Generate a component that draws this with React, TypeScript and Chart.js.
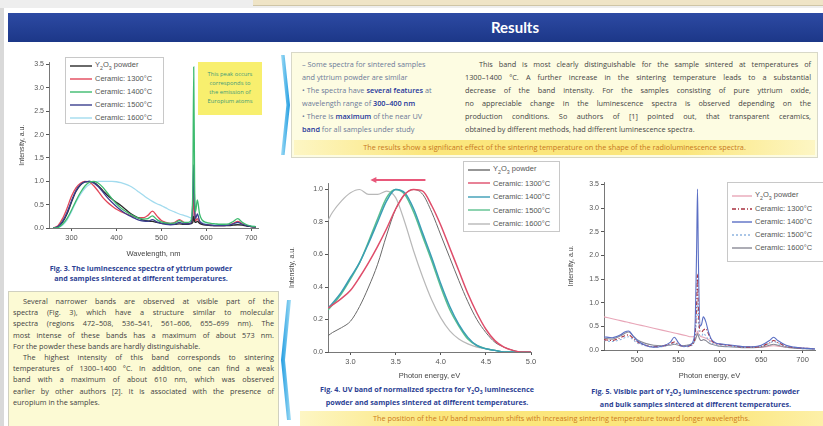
import React, { useEffect, useRef } from "react";
import { Chart, registerables } from "chart.js";
Chart.register(...registerables);

// ---------------- Fig. 3 : luminescence spectra (wavelength, nm) ----------------
const fig3Wavelength = [260,270,280,290,300,310,320,330,340,350,360,370,380,390,400,410,420,430,440,450,460,470,480,490,500,510,520,530,540,550,560,565,568,570,572,574,576,580,585,590,600,610,620,630,640,650,660,670,680,690,700,710];
const fig3Powder = [0,0.02,0.12,0.3,0.55,0.78,0.92,0.99,1.0,0.97,0.9,0.8,0.7,0.62,0.55,0.48,0.4,0.32,0.26,0.21,0.17,0.15,0.14,0.12,0.1,0.09,0.08,0.08,0.09,0.08,0.08,0.09,0.1,0.12,0.25,0.14,0.12,0.14,0.1,0.08,0.06,0.05,0.05,0.05,0.05,0.05,0.06,0.07,0.06,0.04,0.03,0.02];
const fig3Ceramic1300 = [0,0.05,0.2,0.42,0.68,0.86,0.96,1.0,0.98,0.9,0.78,0.65,0.55,0.47,0.4,0.35,0.31,0.27,0.24,0.22,0.22,0.27,0.36,0.26,0.16,0.12,0.1,0.12,0.18,0.12,0.1,0.1,0.14,0.25,0.8,0.3,0.15,0.2,0.12,0.09,0.07,0.06,0.05,0.05,0.05,0.06,0.1,0.14,0.09,0.05,0.03,0.02];
const fig3Ceramic1400 = [0,0.01,0.08,0.2,0.38,0.58,0.76,0.9,0.98,1.0,0.96,0.87,0.75,0.63,0.52,0.43,0.36,0.3,0.25,0.21,0.19,0.2,0.26,0.18,0.13,0.11,0.1,0.11,0.16,0.12,0.12,0.15,0.3,0.9,3.45,0.9,0.35,0.6,0.3,0.18,0.12,0.1,0.09,0.08,0.08,0.09,0.14,0.2,0.12,0.07,0.04,0.03];
const fig3Ceramic1500 = [0,0.03,0.14,0.33,0.58,0.8,0.93,0.99,1.0,0.96,0.88,0.77,0.65,0.55,0.46,0.38,0.31,0.26,0.21,0.17,0.15,0.14,0.18,0.13,0.1,0.08,0.07,0.08,0.12,0.09,0.09,0.1,0.2,0.6,1.35,0.5,0.2,0.3,0.15,0.1,0.07,0.06,0.05,0.05,0.05,0.06,0.09,0.12,0.08,0.05,0.03,0.02];
const fig3Ceramic1600 = [0,0.01,0.06,0.17,0.35,0.55,0.72,0.85,0.93,0.98,1.0,1.0,1.0,1.0,0.99,0.97,0.94,0.9,0.84,0.77,0.7,0.63,0.57,0.52,0.48,0.43,0.38,0.34,0.3,0.27,0.24,0.22,0.22,0.22,0.3,0.22,0.2,0.18,0.15,0.12,0.09,0.08,0.07,0.07,0.07,0.07,0.08,0.08,0.07,0.05,0.04,0.03];
const fig3XTicks = [300, 400, 500, 600, 700];
const fig3YTicks = [0, 0.5, 1, 1.5, 2, 2.5, 3, 3.5];

// ---------------- Fig. 4 : UV band, normalized (photon energy, eV) ----------------
const fig4Energy = [2.75,2.8,2.9,3.0,3.1,3.2,3.3,3.4,3.5,3.6,3.7,3.8,3.9,4.0,4.1,4.2,4.3,4.4,4.5,4.6,4.7,4.8,4.9,5.0];
const fig4Powder = [0.1,0.12,0.15,0.19,0.28,0.4,0.54,0.72,0.88,0.97,1.0,0.97,0.86,0.72,0.58,0.44,0.31,0.2,0.12,0.06,0.03,0.01,0,0];
const fig4Ceramic1300 = [0.27,0.29,0.33,0.38,0.46,0.55,0.65,0.76,0.88,0.97,1.0,0.99,0.9,0.78,0.64,0.5,0.36,0.24,0.14,0.07,0.03,0.01,0,0];
const fig4Ceramic1400 = [0.27,0.3,0.37,0.46,0.55,0.67,0.8,0.93,1.0,0.98,0.88,0.73,0.58,0.42,0.28,0.17,0.09,0.04,0.02,0.01,0,0,0,0];
const fig4Ceramic1500 = [0.26,0.29,0.36,0.45,0.55,0.68,0.82,0.95,1.0,0.97,0.86,0.71,0.56,0.4,0.26,0.16,0.08,0.04,0.02,0.01,0,0,0,0];
const fig4Ceramic1600 = [0.81,0.86,0.93,0.98,1.0,0.97,0.97,0.99,0.95,0.8,0.62,0.46,0.32,0.21,0.13,0.08,0.05,0.03,0.02,0.01,0,0,0,0];
const fig4XTicks = [3.0, 3.5, 4.0, 4.5, 5.0];
const fig4YTicks = [0, 0.2, 0.4, 0.6, 0.8, 1.0];
const fig4ShiftArrow = [3.83, 3.22];

// ---------------- Fig. 5 : visible part (wavelength, nm) ----------------
const fig5Wavelength = [460,470,480,485,490,495,500,510,520,530,540,545,550,555,560,565,568,570,572,573,574,576,578,580,583,586,590,595,600,610,620,630,640,650,660,665,670,680,690,700,710,715];
const fig5Powder = [0.7,0.66,0.62,0.6,0.58,0.56,0.54,0.5,0.46,0.42,0.38,0.36,0.34,0.32,0.3,0.28,0.28,0.3,0.35,0.4,0.35,0.3,0.28,0.27,0.25,0.22,0.18,0.14,0.12,0.1,0.08,0.07,0.06,0.06,0.08,0.09,0.08,0.06,0.05,0.04,0.03,0.03];
const fig5Ceramic1300 = [0.22,0.2,0.26,0.3,0.32,0.25,0.18,0.1,0.07,0.08,0.13,0.17,0.12,0.08,0.08,0.1,0.15,0.3,1.0,1.6,0.9,0.4,0.38,0.42,0.45,0.35,0.2,0.14,0.12,0.1,0.08,0.06,0.06,0.08,0.15,0.2,0.16,0.08,0.05,0.04,0.03,0.02];
const fig5Ceramic1400 = [0.28,0.26,0.32,0.38,0.4,0.3,0.2,0.1,0.06,0.08,0.16,0.27,0.15,0.08,0.08,0.12,0.2,0.5,2.2,3.4,2.0,0.5,0.55,0.7,0.6,0.4,0.22,0.15,0.13,0.11,0.09,0.07,0.07,0.1,0.2,0.27,0.2,0.1,0.06,0.04,0.03,0.02];
const fig5Ceramic1500 = [0.2,0.18,0.22,0.26,0.28,0.22,0.15,0.09,0.06,0.07,0.11,0.15,0.1,0.07,0.07,0.09,0.13,0.25,0.7,1.0,0.6,0.3,0.3,0.35,0.3,0.22,0.15,0.11,0.1,0.08,0.07,0.06,0.06,0.08,0.14,0.18,0.14,0.07,0.05,0.03,0.02,0.02];
const fig5Ceramic1600 = [0.25,0.23,0.3,0.35,0.38,0.3,0.22,0.14,0.1,0.09,0.1,0.12,0.1,0.09,0.1,0.12,0.15,0.2,0.3,0.35,0.3,0.22,0.2,0.22,0.2,0.16,0.12,0.1,0.08,0.07,0.06,0.05,0.05,0.06,0.1,0.12,0.1,0.06,0.04,0.03,0.02,0.02];
const fig5XTicks = [500, 550, 600, 650, 700];
const fig5YTicks = [0, 0.5, 1, 1.5, 2, 2.5, 3, 3.5];

const seriesNames = ["Y2O3 powder", "Ceramic: 1300°C", "Ceramic: 1400°C", "Ceramic: 1500°C", "Ceramic: 1600°C"];

const FONT = "'Liberation Sans', Arial, sans-serif";
const TEXT_FONT = "'Open Sans', sans-serif";

type Series = { name: string; xs: number[]; ys: number[]; color: string; width?: number; dash?: number[]; order?: number };

type ChartProps = {
  left: number; top: number; width: number; height: number;
  series: Series[];
  xMin: number; xMax: number; xTicks: number[]; xDigits: number; xTitle: string;
  yMin: number; yMax: number; yTicks: number[]; yDigits: number; yTitle: string;
  yAxisW: number; xAxisH: number; padding: any; plugins?: any[];
};

function LineChart(p: ChartProps) {
  const ref = useRef<HTMLCanvasElement | null>(null);
  useEffect(() => {
    const c = ref.current;
    if (!c) return;
    const axisColor = "#555";
    const chart = new Chart(c, {
      type: "line",
      data: {
        datasets: p.series.map((s) => ({
          label: s.name,
          data: s.xs.map((x, i) => ({ x, y: s.ys[i] })),
          borderColor: s.color,
          backgroundColor: s.color,
          borderWidth: s.width ?? 1.2,
          borderDash: s.dash ?? [],
          order: s.order ?? 0,
          pointRadius: 0,
          fill: false,
          cubicInterpolationMode: "monotone",
        })),
      },
      options: {
        responsive: false,
        animation: false,
        devicePixelRatio: 1,
        layout: { padding: p.padding },
        plugins: { legend: { display: false }, tooltip: { enabled: false } },
        scales: {
          x: {
            type: "linear",
            min: p.xMin,
            max: p.xMax,
            afterBuildTicks: (s: any) => { s.ticks = p.xTicks.map((v) => ({ value: v })); },
            afterFit: (s: any) => { s.height = p.xAxisH; },
            ticks: { autoSkip: false, maxRotation: 0, padding: 2, color: axisColor, font: { family: FONT, size: 7.5 }, callback: (v: any) => Number(v).toFixed(p.xDigits) },
            grid: { drawOnChartArea: false, tickLength: 3, color: axisColor },
            border: { color: axisColor, width: 0.8 },
            title: { display: true, text: p.xTitle, color: "#444", font: { family: FONT, size: 7.5 }, padding: { top: 2, bottom: 0 } },
          },
          y: {
            type: "linear",
            min: p.yMin,
            max: p.yMax,
            afterBuildTicks: (s: any) => { s.ticks = p.yTicks.map((v) => ({ value: v })); },
            afterFit: (s: any) => { s.width = p.yAxisW; },
            ticks: { autoSkip: false, padding: 2, color: axisColor, font: { family: FONT, size: 7 }, callback: (v: any) => Number(v).toFixed(p.yDigits) },
            grid: { drawOnChartArea: false, tickLength: 3, color: axisColor },
            border: { color: axisColor, width: 0.8 },
            title: { display: true, text: p.yTitle, color: "#444", font: { family: FONT, size: 7 }, padding: { top: 0, bottom: 0 } },
          },
        },
      } as any,
      plugins: p.plugins ?? [],
    });
    return () => chart.destroy();
  }, []);
  return <canvas ref={ref} width={p.width} height={p.height} style={{ position: "absolute", left: p.left, top: p.top, width: p.width, height: p.height }} />;
}

function SeriesName({ name }: { name: string }) {
  if (name.startsWith("Y2O3")) {
    return <span>Y<sub style={{ fontSize: "70%" }}>2</sub>O<sub style={{ fontSize: "70%" }}>3</sub>{name.slice(4)}</span>;
  }
  return <span>{name}</span>;
}

function Legend(props: { left: number; top: number; width: number; height: number; items: Series[]; rowH: number; padTop: number; lineW: number; fontSize: number }) {
  return (
    <div style={{ position: "absolute", left: props.left, top: props.top, width: props.width, height: props.height, background: "#fff", border: "1px solid #c8c8c8", boxSizing: "border-box", paddingTop: props.padTop, fontFamily: FONT, fontSize: props.fontSize, color: "#555" }}>
      {props.items.map((it) => (
        <div key={it.name} style={{ height: props.rowH, display: "flex", alignItems: "center", paddingLeft: 4, whiteSpace: "nowrap", lineHeight: 1 }}>
          <svg width={props.lineW} height={6} style={{ marginRight: 3, flex: "none" }}>
            <line x1={0} y1={3} x2={props.lineW} y2={3} stroke={it.color} strokeWidth={1.4} strokeDasharray={it.dash ? it.dash.join(" ") : undefined} />
          </svg>
          <SeriesName name={it.name} />
        </div>
      ))}
    </div>
  );
}

type Seg = [string, boolean?];
function Lines(props: { left: number; top: number; width: number; lineH: number; fontSize: number; color: string; hiColor?: string; lines: { segs: Seg[]; indent?: number; justify?: boolean }[] }) {
  return (
    <div style={{ position: "absolute", left: props.left, top: props.top, width: props.width, fontFamily: TEXT_FONT, fontSize: props.fontSize, lineHeight: props.lineH + "px", color: props.color }}>
      {props.lines.map((l, i) => (
        <div key={i} style={{ paddingLeft: l.indent ?? 0, textAlign: l.justify ? "justify" : "left", textAlignLast: l.justify ? "justify" : "left", whiteSpace: "nowrap", overflow: "visible", height: props.lineH } as any}>
          {l.segs.map((s, j) => (
            <span key={j} style={s[1] ? { color: props.hiColor, fontWeight: 600 } : undefined}>{s[0]}</span>
          ))}
        </div>
      ))}
    </div>
  );
}

const arrowPlugin = {
  id: "shiftArrow",
  afterDraw(chart: any) {
    const { ctx, chartArea, scales } = chart;
    const x1 = scales.x.getPixelForValue(fig4ShiftArrow[0]);
    const x2 = scales.x.getPixelForValue(fig4ShiftArrow[1]);
    const y = chartArea.top - 3;
    ctx.save();
    ctx.strokeStyle = "#e8587a";
    ctx.fillStyle = "#e8587a";
    ctx.lineWidth = 2;
    ctx.beginPath();
    ctx.moveTo(x1, y);
    ctx.lineTo(x2 + 4, y);
    ctx.stroke();
    ctx.beginPath();
    ctx.moveTo(x2, y);
    ctx.lineTo(x2 + 6, y - 3);
    ctx.lineTo(x2 + 6, y + 3);
    ctx.closePath();
    ctx.fill();
    ctx.restore();
  },
};

const captionStyle: any = { position: "absolute", fontFamily: TEXT_FONT, fontSize: 7.2, fontWeight: 700, color: "#2c3f94", textAlign: "center", lineHeight: "10px", whiteSpace: "nowrap" };

export default function App() {
  const fig3Series: Series[] = [
    { name: seriesNames[0], xs: fig3Wavelength, ys: fig3Powder, color: "#2a2a2a", width: 1.3, order: 2 },
    { name: seriesNames[1], xs: fig3Wavelength, ys: fig3Ceramic1300, color: "#e2475a", width: 1.3, order: 3 },
    { name: seriesNames[2], xs: fig3Wavelength, ys: fig3Ceramic1400, color: "#3dbb6e", width: 1.3, order: 0 },
    { name: seriesNames[3], xs: fig3Wavelength, ys: fig3Ceramic1500, color: "#3b3f8e", width: 1.3, order: 1 },
    { name: seriesNames[4], xs: fig3Wavelength, ys: fig3Ceramic1600, color: "#a2dbee", width: 1.3, order: 4 },
  ];
  const fig4Series: Series[] = [
    { name: seriesNames[0], xs: fig4Energy, ys: fig4Powder, color: "#6a6a6a", width: 1, order: 4 },
    { name: seriesNames[1], xs: fig4Energy, ys: fig4Ceramic1300, color: "#df4d6a", width: 1.5, order: 0 },
    { name: seriesNames[2], xs: fig4Energy, ys: fig4Ceramic1400, color: "#3a9db5", width: 1.5, order: 1 },
    { name: seriesNames[3], xs: fig4Energy, ys: fig4Ceramic1500, color: "#5cc08e", width: 1.5, order: 2 },
    { name: seriesNames[4], xs: fig4Energy, ys: fig4Ceramic1600, color: "#b8b8b8", width: 1.2, order: 3 },
  ];
  const fig5Series: Series[] = [
    { name: seriesNames[0], xs: fig5Wavelength, ys: fig5Powder, color: "#e8a6b8", width: 1.1, order: 4 },
    { name: seriesNames[1], xs: fig5Wavelength, ys: fig5Ceramic1300, color: "#a8303f", width: 1.1, dash: [4, 2, 1, 2], order: 1 },
    { name: seriesNames[2], xs: fig5Wavelength, ys: fig5Ceramic1400, color: "#5b6fc4", width: 1.1, order: 0 },
    { name: seriesNames[3], xs: fig5Wavelength, ys: fig5Ceramic1500, color: "#8fb4e0", width: 1.1, dash: [2, 2], order: 2 },
    { name: seriesNames[4], xs: fig5Wavelength, ys: fig5Ceramic1600, color: "#8a8a96", width: 1.1, order: 3 },
  ];

  const trLeft = [
    { segs: [["– Some spectra for sintered samples"]] as Seg[] },
    { segs: [["   and yttrium powder are similar"]] as Seg[] },
    { segs: [["• The spectra have "], ["several features", true], [" at"]] as Seg[] },
    { segs: [["   wavelength range of "], ["300–400 nm", true]] as Seg[] },
    { segs: [["• There is "], ["maximum", true], [" of the near UV"]] as Seg[] },
    { segs: [["   "], ["band", true], [" for all samples under study"]] as Seg[] },
  ];
  const trRight = [
    { segs: [["This band is most clearly distinguishable for the sample sintered at temperatures of"]] as Seg[], indent: 14, justify: true },
    { segs: [["1300–1400 °C. A further increase in the sintering temperature leads to a substantial"]] as Seg[], justify: true },
    { segs: [["decrease of the band intensity. For the samples consisting of pure yttrium oxide,"]] as Seg[], justify: true },
    { segs: [["no appreciable change in the luminescence spectra is observed depending on the"]] as Seg[], justify: true },
    { segs: [["production conditions. So authors of [1] pointed out, that transparent ceramics,"]] as Seg[], justify: true },
    { segs: [["obtained by different methods, had different luminescence spectra."]] as Seg[] },
  ];
  const blLines = [
    { segs: [["Several narrower bands are observed at visible part of the"]] as Seg[], indent: 10, justify: true },
    { segs: [["spectra (Fig. 3), which have a structure similar to molecular"]] as Seg[], justify: true },
    { segs: [["spectra (regions 472–508, 536–541, 561–606, 655–699 nm). The"]] as Seg[], justify: true },
    { segs: [["most intense of these bands has a maximum of about 573 nm."]] as Seg[], justify: true },
    { segs: [["For the powder these bands are hardly distinguishable."]] as Seg[] },
    { segs: [["The highest intensity of this band corresponds to sintering"]] as Seg[], indent: 10, justify: true },
    { segs: [["temperatures of 1300–1400 °C. In addition, one can find a weak"]] as Seg[], justify: true },
    { segs: [["band with a maximum of about 610 nm, which was observed"]] as Seg[], justify: true },
    { segs: [["earlier by other authors [2]. It is associated with the presence of"]] as Seg[], justify: true },
    { segs: [["europium in the samples."]] as Seg[] },
  ];

  return (
    <div style={{ position: "absolute", left: 0, top: 0, width: 823, height: 426, overflow: "hidden", background: "#ffffff" }}>
      {/* top strip */}
      <div style={{ position: "absolute", left: 0, top: 0, width: 823, height: 8, background: "#eeeeee" }} />
      <div style={{ position: "absolute", left: 253, top: 0, width: 570, height: 5, background: "#efe4c6", borderBottom: "1px solid #cfc5a6" }} />
      <div style={{ position: "absolute", left: 0, top: 8, width: 4, height: 418, background: "#d9d9d9" }} />
      {/* header */}
      <div style={{ position: "absolute", left: 8, top: 13, width: 815, height: 29, background: "linear-gradient(#2d4aa3, #1c3788)" }} />
      <div style={{ position: "absolute", left: 460, top: 13, width: 110, height: 29, color: "#fff", fontFamily: "Lato, sans-serif", fontWeight: 700, fontSize: 15, lineHeight: "29px", textAlign: "center" }}>
        Results
      </div>

      {/* chevrons */}
      <div style={{ position: "absolute", left: 281, top: 55, width: 9, height: 100, background: "linear-gradient(to right, #9fdcf5, #1f9be0)", clipPath: "polygon(0 0, 40% 0, 100% 50%, 40% 100%, 0 100%, 60% 50%)" }} />
      <div style={{ position: "absolute", left: 281, top: 300, width: 10, height: 120, background: "linear-gradient(to left, #9fdcf5, #1f9be0)", clipPath: "polygon(100% 0, 60% 0, 0 50%, 60% 100%, 100% 100%, 40% 50%)" }} />

      {/* top-right text box */}
      <div style={{ position: "absolute", left: 291, top: 52, width: 527, height: 106, background: "#fdfce2", border: "1px solid #d8d8c8", boxSizing: "border-box" }} />
      <Lines left={302} top={58} width={155} lineH={13} fontSize={7.3} color="#6c7a98" hiColor="#24369a" lines={trLeft} />
      <Lines left={465} top={58} width={346} lineH={13} fontSize={7.3} color="#454545" lines={trRight} />
      <div style={{ position: "absolute", left: 294, top: 140, width: 521, height: 15, background: "linear-gradient(to right, #fdf6c4, #fbe67c 25%, #fbe67c 75%, #fdf6c4)", fontFamily: TEXT_FONT, fontSize: 7.3, lineHeight: "15px", color: "#c8781e", textAlign: "center", whiteSpace: "nowrap" }}>
        The results show a significant effect of the sintering temperature on the shape of the radioluminescence spectra.
      </div>

      {/* Fig. 3 */}
      <LineChart left={18} top={56} width={246} height={202} series={fig3Series}
        xMin={250} xMax={715} xTicks={fig3XTicks} xDigits={0} xTitle="Wavelength, nm"
        yMin={0} yMax={3.55} yTicks={fig3YTicks} yDigits={1} yTitle="Intensity, a.u."
        yAxisW={31} xAxisH={30} padding={{ top: 2, right: 6, left: 0, bottom: 0 }} />
      <Legend left={65} top={57} width={99} height={67} items={fig3Series} rowH={13} padTop={1} lineW={22} fontSize={7.5} />
      <div style={{ position: "absolute", left: 198, top: 62, width: 64, height: 53, background: "#f8ef6e", fontFamily: TEXT_FONT, fontSize: 5.8, lineHeight: "9px", color: "#3f9a78", textAlign: "center", paddingTop: 8, boxSizing: "border-box" }}>
        This peak occurs<br />corresponds to<br />the emission of<br />Europium atoms
      </div>
      <div style={{ ...captionStyle, left: 10, top: 263, width: 262 }}>
        Fig. 3. The luminescence spectra of yttrium powder<br />and samples sintered at different temperatures.
      </div>

      {/* bottom-left text box */}
      <div style={{ position: "absolute", left: 8, top: 291, width: 271, height: 140, background: "#fcfad4", border: "1px solid #d0d0c0", boxSizing: "border-box" }} />
      <Lines left={13} top={296} width={261} lineH={11.2} fontSize={7.3} color="#424242" lines={blLines} />

      {/* Fig. 4 */}
      <LineChart left={288} top={175} width={251} height={205} series={fig4Series}
        xMin={2.75} xMax={5.0} xTicks={fig4XTicks} xDigits={1} xTitle="Photon energy, eV"
        yMin={0} yMax={1.04} yTicks={fig4YTicks} yDigits={1} yTitle="Intensity, a.u."
        yAxisW={40} xAxisH={28} padding={{ top: 8, right: 8, left: 0, bottom: 0 }} plugins={[arrowPlugin]} />
      <Legend left={463} top={161} width={97} height={71} items={fig4Series} rowH={13.5} padTop={1} lineW={22} fontSize={7.5} />
      <div style={{ ...captionStyle, left: 296, top: 384, width: 262 }}>
        Fig. 4. UV band of normalized spectra for Y<sub style={{ fontSize: "70%" }}>2</sub>O<sub style={{ fontSize: "70%" }}>3</sub> luminescence<br />powder and samples sintered at different temperatures.
      </div>

      {/* Fig. 5 */}
      <LineChart left={567} top={172} width={256} height={208} series={fig5Series}
        xMin={460} xMax={715} xTicks={fig5XTicks} xDigits={0} xTitle="Photon energy, eV"
        yMin={0} yMax={3.55} yTicks={fig5YTicks} yDigits={1} yTitle="Intensity, a.u."
        yAxisW={37} xAxisH={30} padding={{ top: 10, right: 8, left: 0, bottom: 0 }} />
      <Legend left={727} top={182} width={100} height={80} items={fig5Series} rowH={13} padTop={6} lineW={20} fontSize={7.5} />
      <div style={{ ...captionStyle, left: 568, top: 386, width: 255 }}>
        Fig. 5. Visible part of Y<sub style={{ fontSize: "70%" }}>2</sub>O<sub style={{ fontSize: "70%" }}>3</sub> luminescence spectrum: powder<br />and bulk samples sintered at different temperatures.
      </div>

      {/* bottom band */}
      <div style={{ position: "absolute", left: 300, top: 411, width: 523, height: 15, background: "linear-gradient(to right, #fdf6c4, #fbe67c 25%, #fbe67c 80%, #fdf0a8)", fontFamily: TEXT_FONT, fontSize: 7.3, lineHeight: "15px", color: "#cc7a1c", textAlign: "center", whiteSpace: "nowrap" }}>
        The position of the UV band maximum shifts with increasing sintering temperature toward longer wavelengths.
      </div>
    </div>
  );
}
